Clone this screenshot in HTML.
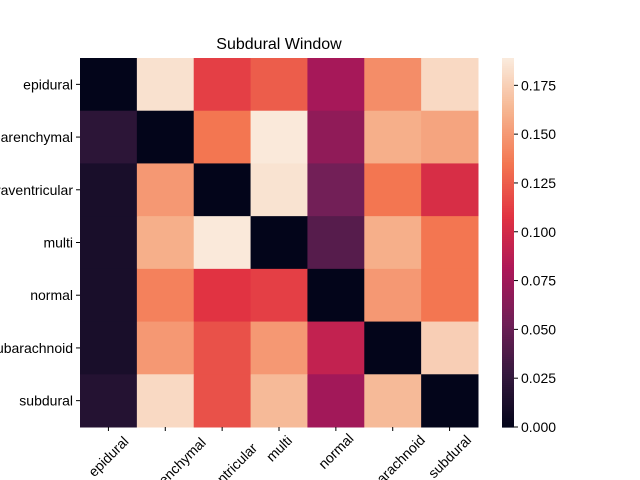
<!DOCTYPE html>
<html><head><meta charset="utf-8"><style>html,body{margin:0;background:#fff;overflow:hidden;width:640px;height:480px}svg{display:block;font-family:"Liberation Sans",sans-serif}</style></head>
<body>
<svg id="chart" width="640" height="480"></svg>
<script>
const labels=["epidural","intraparenchymal","intraventricular","multi","normal","subarachnoid","subdural"];
const row0=[0,0.184,0.113,0.125,0.078,0.145,0.180];
const row1=[0.022,0,0.135,0.188,0.068,0.160,0.155];
const row2=[0.012,0.150,0,0.185,0.055,0.135,0.103];
const row3=[0.012,0.160,0.188,0,0.042,0.160,0.135];
const row4=[0.012,0.140,0.108,0.113,0,0.150,0.135];
const row5=[0.012,0.150,0.120,0.150,0.092,0,0.175];
const row6=[0.018,0.180,0.120,0.165,0.076,0.165,0];
const rows=[row0,row1,row2,row3,row4,row5,row6];
const cbTicks=[0,0.025,0.05,0.075,0.1,0.125,0.15,0.175];
const vmax=0.189;
const X0=80,X1=478,Y0=58,Y1=427,n=7;
const cw=(X1-X0)/n,ch=(Y1-Y0)/n;
const xs=i=>X0+i*cw, ys=j=>Y0+j*ch;
const stops=[[3,5,26],[53,25,62],[112,31,87],[173,23,89],[225,51,66],[243,118,81],[246,180,143],[250,235,221]];
function cmap(v){let t=Math.max(0,Math.min(1,v/vmax))*(stops.length-1);let i=Math.min(Math.floor(t),stops.length-2),f=t-i;
const c=stops[i].map((a,k)=>Math.round(a+(stops[i+1][k]-a)*f));return `rgb(${c})`;}
const svg=document.getElementById('chart');const NS='http://www.w3.org/2000/svg';
function el(t,a,p){const e=document.createElementNS(NS,t);for(const k in a)e.setAttribute(k,a[k]);(p||svg).appendChild(e);return e;}
const title=el('text',{x:279,y:49,'text-anchor':'middle','font-size':16});title.textContent='Subdural Window';


rows.forEach((r,j)=>r.forEach((v,i)=>{
 const c=el('rect',{x:xs(i),y:ys(j),width:cw+0.5,height:ch+0.5,fill:cmap(v)});
 
 
}));
labels.forEach((l,j)=>{
 const y=ys(j)+ch/2;
 el('line',{x1:X0-4,x2:X0,y1:y,y2:y,stroke:'#000'});
 const t=el('text',{x:X0-7,y:y+5,'text-anchor':'end','font-size':14});t.textContent=l;
 
 
 const x=xs(j)+cw/2;
 el('line',{x1:x,x2:x,y1:Y1,y2:Y1+4,stroke:'#000'});
 const w=l.length*7.6/2;
 const tx=el('text',{x:0,y:0,'text-anchor':'middle','font-size':14,transform:`translate(${x},${Y1+8+w*0.707}) rotate(-45)`,dy:'0.35em'});tx.textContent=l;
 
 
});
const CB0=502,CB1=514;
const g=el('g',{});
for(let k=0;k<200;k++){const v0=vmax*k/200;const yA=Y1-(Y1-Y0)*(k+1)/200;
 el('rect',{x:CB0,y:yA,width:CB1-CB0,height:(Y1-Y0)/200+0.6,fill:cmap(v0+vmax/400)},g);}
cbTicks.forEach(v=>{const y=Y1-(Y1-Y0)*v/vmax;
 el('line',{x1:CB1,x2:CB1+4,y1:y,y2:y,stroke:'#000'},g);
 const t=el('text',{x:CB1+7,y:y+5,'font-size':14},g);t.textContent=v.toFixed(3);
 
 
});
</script>
</body></html>
